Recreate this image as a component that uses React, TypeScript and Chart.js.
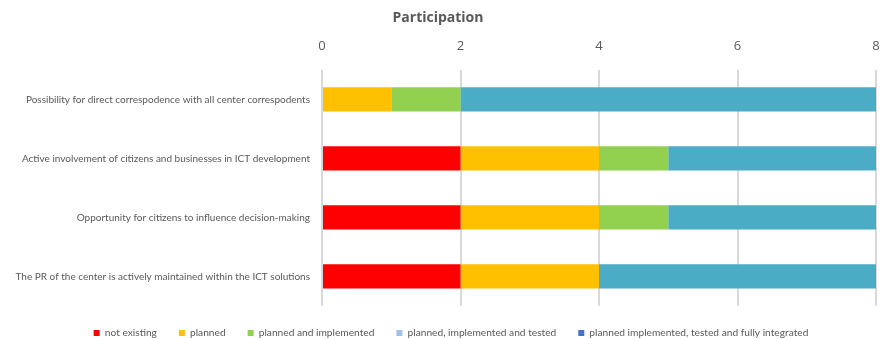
import React, { useEffect, useRef } from "react";
import { Chart, registerables } from "chart.js";

Chart.register(...registerables);

const categories = [
  "Possibility for direct correspodence with all center correspodents",
  "Active involvement of citizens and businesses in ICT development",
  "Opportunity for citizens to influence decision-making",
  "The PR of the center is actively maintained within the ICT solutions",
];
const notExisting = [0, 2, 2, 2];
const planned = [1, 2, 2, 2];
const plannedImplemented = [1, 1, 1, 0];
const plannedImplementedTested = [0, 0, 0, 0];
const fullyIntegrated = [0, 0, 0, 0];
const remaining = [6, 3, 3, 4];
const xTicks = [0, 2, 4, 6, 8];

const GRAY = "#595959";

const legendShift = {
  id: "legendShift",
  afterLayout(chart: any) {
    if (chart.legend) {
      chart.legend.left += 13;
      chart.legend.right += 13;
    }
  },
};

export default function App() {
  const ref = useRef<HTMLCanvasElement>(null);
  useEffect(() => {
    if (!ref.current) return;
    const chart = new Chart(ref.current, {
      type: "bar",
      data: {
        labels: categories,
        datasets: [
          { label: "not existing", data: notExisting, backgroundColor: "#FF0000" },
          { label: "planned", data: planned, backgroundColor: "#FFC000" },
          { label: "planned and implemented", data: plannedImplemented, backgroundColor: "#92D050" },
          { label: "planned, implemented and tested", data: plannedImplementedTested, backgroundColor: "#9DC3E6" },
          { label: "planned implemented, tested and fully integrated", data: fullyIntegrated, backgroundColor: "#4472C4" },
          { label: "other", data: remaining, backgroundColor: "#4BACC6" },
        ],
      },
      options: {
        indexAxis: "y",
        animation: false,
        responsive: true,
        maintainAspectRatio: false,
        datasets: { bar: { barPercentage: 0.41, categoryPercentage: 1 } },
        layout: { padding: { left: 0, right: 7, top: 0, bottom: -9 } },
        scales: {
          x: {
            position: "top",
            stacked: true,
            min: xTicks[0],
            max: xTicks[xTicks.length - 1],
            afterBuildTicks: (axis: any) => {
              axis.ticks = xTicks.map((v) => ({ value: v }));
            },
            afterFit: (axis: any) => {
              axis.height = 35;
              axis.paddingLeft = 0;
              axis.paddingRight = 0;
            },
            grid: { color: "#d9d9d9", lineWidth: 2, drawTicks: false },
            border: { display: false },
            ticks: {
              color: GRAY,
              padding: 16,
              font: { family: "Open Sans", size: 13 },
            },
          },
          y: {
            stacked: true,
            grid: { display: false },
            border: { display: false },
            afterFit: (axis: any) => {
              axis.width = 322;
            },
            ticks: {
              color: GRAY,
              padding: 4,
              font: { family: "Lato", size: 10 },
            },
          },
        },
        plugins: {
          title: {
            display: true,
            text: "Participation",
            color: GRAY,
            font: { family: "Open Sans", size: 14, weight: "bold" },
            padding: { top: 10, bottom: 8 },
          },
          legend: {
            position: "bottom",
            labels: {
              filter: (item: any) => item.datasetIndex < 5,
              boxWidth: 6,
              boxHeight: 6,
              padding: 22,
              color: GRAY,
              font: { family: "Lato", size: 10.2 },
            },
          },
          tooltip: { enabled: false },
        },
      },
      plugins: [legendShift],
    });
    return () => chart.destroy();
  }, []);
  return (
    <div style={{ position: "absolute", left: 0, top: 0, width: 883, height: 339 }}>
      <canvas ref={ref} />
    </div>
  );
}
